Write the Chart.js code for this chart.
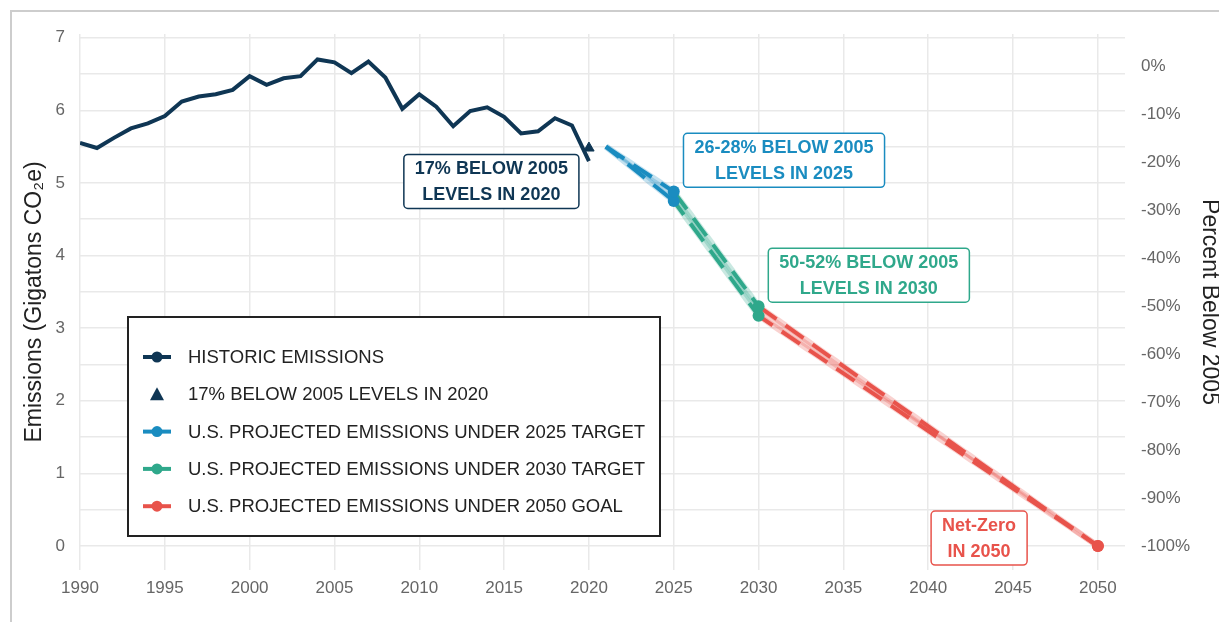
<!DOCTYPE html>
<html>
<head>
<meta charset="utf-8">
<script src="https://cdn.jsdelivr.net/npm/chart.js@4"></script>
<style>
  html, body { margin: 0; padding: 0; background: #fff; }
  #frame { position: absolute; left: 10px; top: 10px; width: 1230px; height: 630px;
           border-left: 2px solid #cdcdcd; border-top: 2px solid #cdcdcd; }
  #chart { position: absolute; left: 0; top: 0; }
</style>
</head>
<body>
<div id="frame"></div>
<canvas id="chart" width="1219" height="622"></canvas>
<script>
// historic emissions, Gt CO2e
const years = [1990, 1991, 1992, 1993, 1994, 1995, 1996, 1997, 1998, 1999,
               2000, 2001, 2002, 2003, 2004, 2005, 2006, 2007, 2008, 2009,
               2010, 2011, 2012, 2013, 2014, 2015, 2016, 2017, 2018, 2019, 2020];
const historic = [5.55, 5.48, 5.62, 5.75, 5.82, 5.92, 6.12, 6.19, 6.22, 6.28,
                  6.47, 6.35, 6.44, 6.47, 6.70, 6.66, 6.51, 6.67, 6.45, 6.02,
                  6.22, 6.05, 5.78, 5.99, 6.04, 5.91, 5.68, 5.71, 5.89, 5.79, 5.30];

// 17% below 2005 in 2020
const target2020Years = [2020];
const target2020Values = [5.48];

// projections (upper / lower bound of each range)
const proj2025Years = [2021, 2025];
const proj2025High = [5.50, 4.88];
const proj2025Low = [5.50, 4.75];
const proj2030Years = [2025, 2030];
const proj2030High = [4.88, 3.30];
const proj2030Low = [4.75, 3.17];
const proj2050Years = [2030, 2050];
const proj2050High = [3.30, 0];
const proj2050Low = [3.17, 0];

const base2005 = 6.6;   // 0% on the right axis
const yMin = -0.33, yMax = 7.05;
const xMin = 1990, xMax = 2051.6;

const legendLabels = [
  "HISTORIC EMISSIONS",
  "17% BELOW 2005 LEVELS IN 2020",
  "U.S. PROJECTED EMISSIONS UNDER 2025 TARGET",
  "U.S. PROJECTED EMISSIONS UNDER 2030 TARGET",
  "U.S. PROJECTED EMISSIONS UNDER 2050 GOAL"
];

const navy = "#0f3654", blue = "#1a8cc0", green = "#2fa88b", red = "#e8534b";
const pale = {
  [blue]: "rgba(26,140,192,0.26)",
  [green]: "rgba(47,168,139,0.26)",
  [red]: "rgba(232,83,75,0.26)"
};

const notes = [
  { x: 2014.25, y: 5.02, color: navy, lines: ["17% BELOW 2005", "LEVELS IN 2020"] },
  { x: 2031.5, y: 5.31, color: blue, lines: ["26-28% BELOW 2005", "LEVELS IN 2025"] },
  { x: 2036.5, y: 3.73, color: green, lines: ["50-52% BELOW 2005", "LEVELS IN 2030"] },
  { x: 2043.0, y: 0.11, color: red, lines: ["Net-Zero", "IN 2050"] }
];

const toPts = (xs, ys) => xs.map((x, i) => ({ x: x, y: ys[i] }));
const FONT = '"Liberation Sans", Arial, sans-serif';

// build the datasets
const datasets = [];
datasets.push({
  data: toPts(years, historic), borderColor: navy, borderWidth: 4,
  pointRadius: 0, tension: 0, order: 0
});
datasets.push({
  data: toPts(target2020Years, target2020Values), showLine: false,
  pointStyle: "triangle", pointRadius: 6, backgroundColor: navy, borderColor: navy, order: 0
});

const addProjection = (xs, hi, lo, color) => {
  // pale band under the dashes
  const hiIndex = datasets.length;
  datasets.push({
    data: toPts(xs, hi), borderColor: pale[color], borderWidth: 6,
    pointRadius: 0, order: 3
  });
  datasets.push({
    data: toPts(xs, lo), borderColor: pale[color], borderWidth: 6,
    pointRadius: 0, order: 3, fill: hiIndex, backgroundColor: pale[color]
  });
  datasets.push({
    data: toPts(xs, hi), borderColor: color, borderWidth: 4, borderDash: [22, 11],
    pointRadius: [0, 6], pointBackgroundColor: color, pointBorderWidth: 0, order: 1
  });
  datasets.push({
    data: toPts(xs, lo), borderColor: color, borderWidth: 4, borderDash: [22, 11],
    borderDashOffset: 5,
    pointRadius: [0, 6], pointBackgroundColor: color, pointBorderWidth: 0, order: 1
  });
};
addProjection(proj2025Years, proj2025High, proj2025Low, blue);
addProjection(proj2030Years, proj2030High, proj2030Low, green);
addProjection(proj2050Years, proj2050High, proj2050Low, red);

// text boxes on the chart
const notesPlugin = {
  id: "notes",
  afterDatasetsDraw(chart) {
    const { ctx, scales } = chart;
    ctx.save();
    ctx.font = "bold 18px " + FONT;
    notes.forEach(n => {
      const cx = scales.x.getPixelForValue(n.x);
      const cy = scales.y.getPixelForValue(n.y);
      const w = Math.max(...n.lines.map(l => ctx.measureText(l).width)) + 22;
      const h = 54;
      ctx.beginPath();
      ctx.roundRect(cx - w / 2, cy - h / 2, w, h, 4);
      ctx.fillStyle = "#fff";
      ctx.fill();
      ctx.lineWidth = 1.5;
      ctx.strokeStyle = n.color;
      ctx.stroke();
      ctx.fillStyle = n.color;
      ctx.textAlign = "center";
      ctx.textBaseline = "middle";
      ctx.fillText(n.lines[0], cx, cy - 12);
      ctx.fillText(n.lines[1], cx, cy + 14);
    });
    ctx.restore();
  }
};

// boxed legend inside the plot
const legendPlugin = {
  id: "boxLegend",
  afterDraw(chart) {
    const ctx = chart.ctx;
    const colors = [navy, navy, blue, green, red];
    const bx = 128, by = 317, bw = 532, bh = 219;
    ctx.save();
    ctx.fillStyle = "#fff";
    ctx.fillRect(bx, by, bw, bh);
    ctx.lineWidth = 2;
    ctx.strokeStyle = "#222";
    ctx.strokeRect(bx, by, bw, bh);
    ctx.font = "18.5px " + FONT;
    ctx.textBaseline = "middle";
    legendLabels.forEach((label, i) => {
      const y = 357 + i * 37.3;
      const c = colors[i];
      ctx.fillStyle = c;
      ctx.strokeStyle = c;
      if (i === 1) {
        ctx.beginPath();
        ctx.moveTo(157, y - 7);
        ctx.lineTo(164, y + 6);
        ctx.lineTo(150, y + 6);
        ctx.closePath();
        ctx.fill();
      } else {
        ctx.lineWidth = 4;
        ctx.beginPath();
        ctx.moveTo(143, y);
        ctx.lineTo(171, y);
        ctx.stroke();
        ctx.beginPath();
        ctx.arc(157, y, 5.5, 0, Math.PI * 2);
        ctx.fill();
      }
      ctx.fillStyle = "#222";
      ctx.fillText(label, 188, y + 1);
    });
    ctx.restore();
  }
};

const gridColor = "#e9e9e9";
const tickFont = { family: FONT, size: 17 };
const titleFont = { family: FONT, size: 23, lineHeight: 1 };

new Chart(document.getElementById("chart"), {
  type: "line",
  data: { datasets: datasets },
  plugins: [notesPlugin, legendPlugin],
  options: {
    responsive: false,
    animation: false,
    layout: { padding: { top: 34, left: 0, right: 0, bottom: 0 } },
    plugins: { legend: { display: false }, tooltip: { enabled: false } },
    elements: { line: { tension: 0 } },
    scales: {
      x: {
        type: "linear", min: xMin, max: xMax,
        grid: { color: gridColor, lineWidth: 1.5, drawTicks: false },
        border: { display: false },
        ticks: {
          stepSize: 5, includeBounds: false, padding: 8,
          color: "#666", font: tickFont, maxRotation: 0,
          callback: v => String(v)
        },
        afterFit: s => { s.height = 52; }
      },
      y: {
        position: "left", min: yMin, max: yMax,
        grid: { color: gridColor, lineWidth: 1.5, drawTicks: false },
        border: { display: false },
        ticks: {
          stepSize: 0.5, includeBounds: false, padding: 15,
          color: "#666", font: tickFont,
          callback: v => (Number.isInteger(v) ? String(v) : "")
        },
        title: {
          display: true, text: "Emissions (Gigatons CO\u2082e)",
          color: "#222", font: titleFont, padding: { top: 23, bottom: 0 }
        },
        afterFit: s => { s.width = 80; }
      },
      y2: {
        position: "right",
        min: yMin / base2005 * 100 - 100,
        max: yMax / base2005 * 100 - 100,
        grid: { display: false, drawTicks: false },
        border: { display: false },
        ticks: {
          stepSize: 10, includeBounds: false, padding: 16,
          color: "#666", font: tickFont,
          callback: v => Math.round(v) + "%"
        },
        title: {
          display: true, text: "Percent Below 2005",
          color: "#222", font: titleFont, padding: { top: -2, bottom: 0 }
        },
        afterFit: s => { s.width = 94; }
      }
    }
  }
});
</script>
</body>
</html>
